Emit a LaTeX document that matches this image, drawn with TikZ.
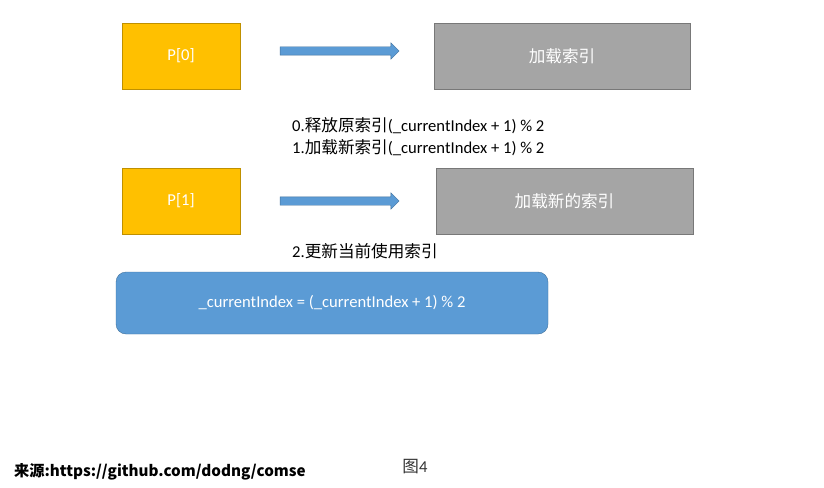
\documentclass[tikz,border=0pt]{standalone}
\usepackage{fontspec}
\setmainfont{Carlito}
\newfontfamily\cjk{Noto Sans CJK SC}
\newcommand{\zh}[1]{{\cjk #1}}
\usetikzlibrary{shapes.arrows}
\definecolor{pyellow}{HTML}{FFC000}
\definecolor{pyellowline}{HTML}{BF9000}
\definecolor{loadgray}{HTML}{A5A5A5}
\definecolor{loadgrayline}{HTML}{787878}
\definecolor{stepblue}{HTML}{5B9BD5}
\definecolor{stepblueline}{HTML}{41719C}

\begin{document}
\begin{tikzpicture}[x=1pt, y=-1pt, every node/.style={font=\fontsize{16.6}{19}\selectfont},
  pbox/.style={rectangle, draw=pyellowline, fill=pyellow, text=white, minimum width=118pt, minimum height=66pt},
  loadbox/.style={rectangle, draw=loadgrayline, fill=loadgray, text=white, minimum width=256pt, minimum height=66pt},
  movearrow/.style={single arrow, draw=stepblueline, fill=stepblue, minimum height=119pt, inner sep=0pt, inner ysep=4pt, single arrow head extend=4pt},
  calcbox/.style={rectangle, rounded corners=10pt, draw=stepblueline, fill=stepblue, text=white, minimum width=432pt, minimum height=62pt},
  note/.style={anchor=west, inner sep=0pt}
]
\useasboundingbox (0,0) rectangle (824,487);
% 第一组
\node[pbox] (p0) at (181,56) {P[0]};
\node[movearrow] (arr0) at (337.5,51) {};
\node[loadbox] (load0) at (562,56) {\zh{加载索引}};
% 说明
\node[note] (step0) at (292,126) {0.\zh{释放原索引}(\_currentIndex + 1) \% 2};
\node[note] (step1) at (292,148) {1.\zh{加载新索引}(\_currentIndex + 1) \% 2};
% 第二组
\node[pbox] (p1) at (181,201) {P[1]};
\node[movearrow] (arr1) at (337.5,201) {};
\node[loadbox, minimum width=257pt] (load1) at (564.5,201) {\zh{加载新的索引}};
\node[note] (step2) at (292,251) {2.\zh{更新当前使用索引}};
% 更新
\node[calcbox] (calc) at (332,303) {\_currentIndex = (\_currentIndex + 1) \% 2};
% 底部
\node[anchor=west, inner sep=0pt, font=\cjk\bfseries\fontsize{15.2}{18}\selectfont] (src) at (14,472) {来源:https://github.com/dodng/comse};
\node[inner sep=0pt, text=black!80] (fig) at (415,467) {\zh{图}4};
\end{tikzpicture}
\end{document}
